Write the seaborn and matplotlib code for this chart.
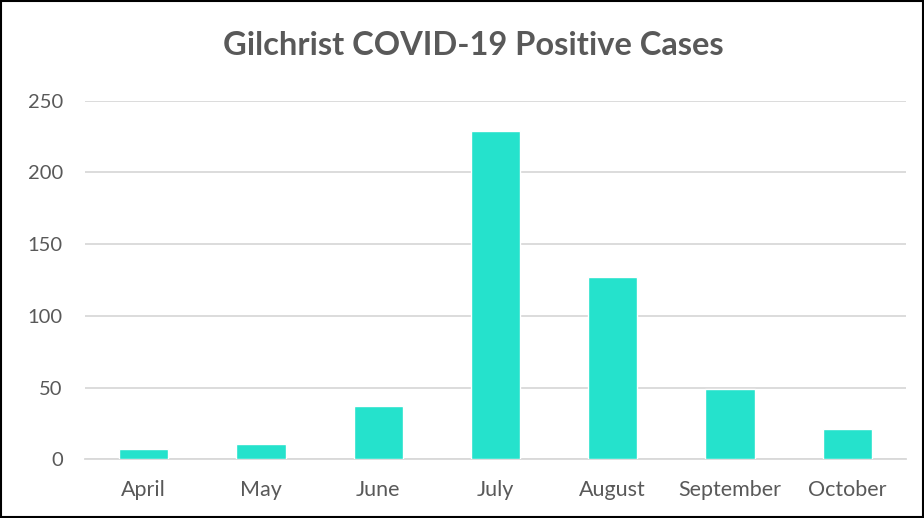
import matplotlib
matplotlib.use("Agg")
import matplotlib.pyplot as plt
import seaborn as sns
import pandas as pd

months = ["April", "May", "June", "July", "August", "September", "October"]
cases = [7, 11, 37, 229, 127, 49, 21]
y_ticks = [0, 50, 100, 150, 200, 250]

sns.set_style("white")
plt.rcParams["font.family"] = ["Lato", "DejaVu Sans"]

df = pd.DataFrame({"month": months, "cases": cases})

fig = plt.figure(figsize=(9.24, 5.18), dpi=100)
ax = fig.add_axes([0.092, 0.1133, 0.8885, 0.6923])

sns.barplot(data=df, x="month", y="cases", color="#25e2cc", saturation=1,
            width=0.42, ax=ax, zorder=3)

ax.set_ylim(0, 250)
ax.set_yticks(y_ticks)
ax.set_xlim(-0.5, len(months) - 0.5)
ax.yaxis.grid(True, color="#d9d9d9", linewidth=1.3, zorder=0)
ax.set_axisbelow(True)
for s in ["top", "right", "left"]:
    ax.spines[s].set_visible(False)
ax.spines["bottom"].set_color("#d9d9d9")
ax.spines["bottom"].set_linewidth(1.3)
ax.tick_params(axis="both", length=0, labelcolor="#595959")
ax.tick_params(axis="y", pad=16, labelsize=14.5)
ax.tick_params(axis="x", pad=15, labelsize=15.5)
ax.set_xlabel("")
ax.set_ylabel("")

fig.text(0.512, 0.912, "Gilchrist COVID-19 Positive Cases", ha="center", va="center",
         fontsize=23.5, fontweight="bold", color="#595959")

fig.patches.append(plt.Rectangle((0.001, 0.001), 0.998, 0.997, transform=fig.transFigure,
                                 fill=False, edgecolor="black", linewidth=1.5))

fig.savefig("out.png", dpi=100)
